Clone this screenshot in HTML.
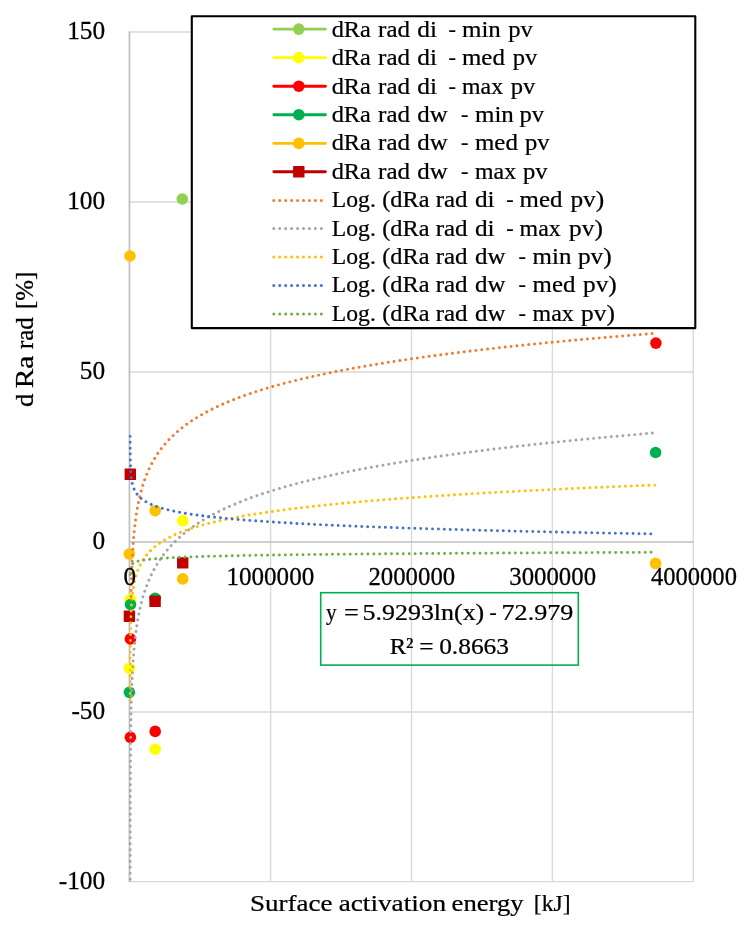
<!DOCTYPE html>
<html lang="en"><head><meta charset="utf-8"><title>d Ra rad vs surface activation energy</title>
<style>html,body{margin:0;padding:0;background:#fff}svg{display:block}text{font-family:'Liberation Serif', 'DejaVu Serif', serif;font-size:24px;fill:#000;stroke:#000;stroke-width:0.25px}</style></head><body>
<svg width="746" height="926" viewBox="0 0 746 926">
<rect width="746" height="926" fill="#fff"/>
<g stroke="#d9d9d9" stroke-width="1.4" fill="none">
<line x1="129.7" y1="32.0" x2="693.3" y2="32.0"/>
<line x1="129.7" y1="202.0" x2="693.3" y2="202.0"/>
<line x1="129.7" y1="372.0" x2="693.3" y2="372.0"/>
<line x1="129.7" y1="712.0" x2="693.3" y2="712.0"/>
<line x1="129.7" y1="881.6" x2="693.3" y2="881.6"/>
<line x1="270.6" y1="32.0" x2="270.6" y2="881.6"/>
<line x1="411.5" y1="32.0" x2="411.5" y2="881.6"/>
<line x1="552.4" y1="32.0" x2="552.4" y2="881.6"/>
<line x1="693.3" y1="32.0" x2="693.3" y2="881.6"/>
</g>
<g stroke="#bfbfbf" stroke-width="1.5" fill="none">
<line x1="129.45" y1="31.3" x2="129.45" y2="882.3" stroke-width="1.7"/>
<line x1="129.7" y1="542.0" x2="693.3" y2="542.0"/>
</g>
<g fill="#92d050">
<circle cx="182.3" cy="199.0" r="5.80"/>
</g>
<g fill="#ffff00">
<circle cx="182.8" cy="520.8" r="5.80"/>
<circle cx="130.3" cy="599.5" r="5.80"/>
<circle cx="129.4" cy="668.3" r="5.80"/>
<circle cx="155.2" cy="749.2" r="5.80"/>
</g>
<g fill="#ff0000">
<circle cx="655.9" cy="343.1" r="5.80"/>
<circle cx="130.4" cy="638.9" r="5.80"/>
<circle cx="130.4" cy="737.3" r="5.80"/>
<circle cx="155.2" cy="731.4" r="5.80"/>
</g>
<g fill="#00b050">
<circle cx="655.6" cy="452.5" r="5.80"/>
<circle cx="130.5" cy="604.5" r="5.80"/>
<circle cx="129.4" cy="692.3" r="5.80"/>
<circle cx="155.1" cy="598.3" r="5.80"/>
</g>
<g fill="#ffc000">
<circle cx="130.0" cy="256.0" r="5.80"/>
<circle cx="155.2" cy="510.7" r="5.80"/>
<circle cx="129.3" cy="554.0" r="5.80"/>
<circle cx="182.7" cy="578.9" r="5.80"/>
<circle cx="655.6" cy="563.4" r="5.80"/>
</g>
<g fill="#c00000">
<rect x="124.6" y="468.6" width="11.4" height="11.4" rx="0.6"/>
<rect x="177.0" y="557.2" width="11.4" height="11.4" rx="0.6"/>
<rect x="149.4" y="595.6" width="11.4" height="11.4" rx="0.6"/>
<rect x="123.7" y="610.5" width="11.4" height="11.4" rx="0.6"/>
</g>
<defs><clipPath id="plot"><rect x="126.7" y="29.0" width="569.6" height="854.1"/></clipPath></defs>
<g fill="none" stroke-width="2.95" stroke-linecap="round" stroke-linejoin="round" stroke-dasharray="0.01 5.89" clip-path="url(#plot)">
<path d="M130.98 596.47 L131.00 595.75 L131.01 595.02 L131.03 594.30 L131.04 593.58 L131.06 592.85 L131.07 592.13 L131.09 591.41 L131.11 590.68 L131.12 589.96 L131.14 589.24 L131.16 588.52 L131.18 587.79 L131.20 587.07 L131.21 586.35 L131.23 585.62 L131.25 584.90 L131.27 584.18 L131.29 583.45 L131.31 582.73 L131.33 582.01 L131.35 581.29 L131.38 580.56 L131.40 579.84 L131.42 579.12 L131.44 578.39 L131.47 577.67 L131.49 576.95 L131.51 576.22 L131.54 575.50 L131.56 574.78 L131.59 574.06 L131.61 573.33 L131.64 572.61 L131.67 571.89 L131.69 571.16 L131.72 570.44 L131.75 569.72 L131.78 569.00 L131.81 568.27 L131.84 567.55 L131.87 566.83 L131.90 566.10 L131.93 565.38 L131.96 564.66 L131.99 563.93 L132.03 563.21 L132.06 562.49 L132.09 561.77 L132.13 561.04 L132.16 560.32 L132.20 559.60 L132.24 558.87 L132.27 558.15 L132.31 557.43 L132.35 556.70 L132.39 555.98 L132.43 555.26 L132.47 554.54 L132.51 553.81 L132.55 553.09 L132.60 552.37 L132.64 551.64 L132.69 550.92 L132.73 550.20 L132.78 549.48 L132.82 548.75 L132.87 548.03 L132.92 547.31 L132.97 546.58 L133.02 545.86 L133.07 545.14 L133.12 544.41 L133.18 543.69 L133.23 542.97 L133.29 542.25 L133.34 541.52 L133.40 540.80 L133.46 540.08 L133.52 539.35 L133.58 538.63 L133.64 537.91 L133.70 537.18 L133.76 536.46 L133.83 535.74 L133.89 535.02 L133.96 534.29 L134.03 533.57 L134.10 532.85 L134.17 532.12 L134.24 531.40 L134.31 530.68 L134.39 529.96 L134.47 529.23 L134.54 528.51 L134.62 527.79 L134.70 527.06 L134.78 526.34 L134.86 525.62 L134.95 524.89 L135.04 524.17 L135.12 523.45 L135.21 522.73 L135.30 522.00 L135.39 521.28 L135.49 520.56 L135.58 519.83 L135.68 519.11 L135.78 518.39 L135.88 517.66 L135.98 516.94 L136.09 516.22 L136.19 515.50 L136.30 514.77 L136.41 514.05 L136.52 513.33 L136.64 512.60 L136.75 511.88 L136.87 511.16 L136.99 510.44 L137.11 509.71 L137.24 508.99 L137.36 508.27 L137.49 507.54 L137.62 506.82 L137.76 506.10 L137.89 505.37 L138.03 504.65 L138.17 503.93 L138.32 503.21 L138.46 502.48 L138.61 501.76 L138.76 501.04 L138.92 500.31 L139.07 499.59 L139.23 498.87 L139.40 498.14 L139.56 497.42 L139.73 496.70 L139.90 495.98 L140.07 495.25 L140.25 494.53 L140.43 493.81 L140.62 493.08 L140.80 492.36 L140.99 491.64 L141.19 490.92 L141.38 490.19 L141.59 489.47 L141.79 488.75 L142.00 488.02 L142.21 487.30 L142.43 486.58 L142.64 485.85 L142.87 485.13 L143.10 484.41 L143.33 483.69 L143.56 482.96 L143.80 482.24 L144.05 481.52 L144.30 480.79 L144.55 480.07 L144.81 479.35 L145.07 478.62 L145.33 477.90 L145.61 477.18 L145.88 476.46 L146.16 475.73 L146.45 475.01 L146.74 474.29 L147.04 473.56 L147.34 472.84 L147.65 472.12 L147.96 471.40 L148.28 470.67 L148.60 469.95 L148.93 469.23 L149.27 468.50 L149.61 467.78 L149.96 467.06 L150.31 466.33 L150.67 465.61 L151.04 464.89 L151.41 464.17 L151.79 463.44 L152.18 462.72 L152.57 462.00 L152.97 461.27 L153.38 460.55 L153.80 459.83 L154.22 459.10 L154.65 458.38 L155.09 457.66 L155.53 456.94 L155.99 456.21 L156.45 455.49 L156.92 454.77 L157.40 454.04 L157.89 453.32 L158.38 452.60 L158.89 451.87 L159.40 451.15 L159.92 450.43 L160.46 449.71 L161.00 448.98 L161.55 448.26 L162.11 447.54 L162.68 446.81 L163.26 446.09 L163.85 445.37 L164.46 444.65 L165.07 443.92 L165.69 443.20 L166.33 442.48 L166.98 441.75 L167.64 441.03 L168.31 440.31 L168.99 439.58 L169.68 438.86 L170.39 438.14 L171.11 437.42 L171.84 436.69 L172.59 435.97 L173.34 435.25 L174.12 434.52 L174.90 433.80 L175.70 433.08 L176.52 432.35 L177.35 431.63 L178.19 430.91 L179.05 430.19 L179.92 429.46 L180.81 428.74 L181.72 428.02 L182.64 427.29 L183.58 426.57 L184.53 425.85 L185.51 425.13 L186.50 424.40 L187.50 423.68 L188.53 422.96 L189.57 422.23 L190.63 421.51 L191.72 420.79 L192.82 420.06 L193.94 419.34 L195.08 418.62 L196.24 417.90 L197.42 417.17 L198.62 416.45 L199.85 415.73 L201.09 415.00 L202.36 414.28 L203.65 413.56 L204.97 412.83 L206.30 412.11 L207.66 411.39 L209.05 410.67 L210.46 409.94 L211.90 409.22 L213.36 408.50 L214.85 407.77 L216.36 407.05 L217.90 406.33 L219.47 405.61 L221.07 404.88 L222.69 404.16 L224.35 403.44 L226.03 402.71 L227.74 401.99 L229.49 401.27 L231.26 400.54 L233.07 399.82 L234.91 399.10 L236.79 398.38 L238.69 397.65 L240.63 396.93 L242.61 396.21 L244.62 395.48 L246.66 394.76 L248.75 394.04 L250.87 393.31 L253.03 392.59 L255.22 391.87 L257.46 391.15 L259.73 390.42 L262.05 389.70 L264.41 388.98 L266.81 388.25 L269.25 387.53 L271.74 386.81 L274.27 386.09 L276.85 385.36 L279.47 384.64 L282.14 383.92 L284.86 383.19 L287.62 382.47 L290.44 381.75 L293.30 381.02 L296.22 380.30 L299.19 379.58 L302.21 378.86 L305.29 378.13 L308.42 377.41 L311.60 376.69 L314.85 375.96 L318.15 375.24 L321.51 374.52 L324.93 373.79 L328.42 373.07 L331.96 372.35 L335.57 371.63 L339.24 370.90 L342.98 370.18 L346.78 369.46 L350.66 368.73 L354.60 368.01 L358.61 367.29 L362.69 366.57 L366.85 365.84 L371.08 365.12 L375.39 364.40 L379.78 363.67 L384.24 362.95 L388.78 362.23 L393.40 361.50 L398.11 360.78 L402.90 360.06 L407.78 359.34 L412.74 358.61 L417.79 357.89 L422.94 357.17 L428.17 356.44 L433.50 355.72 L438.92 355.00 L444.44 354.27 L450.06 353.55 L455.78 352.83 L461.60 352.11 L467.53 351.38 L473.56 350.66 L479.70 349.94 L485.95 349.21 L492.31 348.49 L498.78 347.77 L505.37 347.04 L512.08 346.32 L518.91 345.60 L525.86 344.88 L532.93 344.15 L540.13 343.43 L547.46 342.71 L554.92 341.98 L562.52 341.26 L570.25 340.54 L578.11 339.82 L586.12 339.09 L594.27 338.37 L602.57 337.65 L611.02 336.92 L619.61 336.20 L628.36 335.48 L637.27 334.75 L646.34 334.03 L655.57 333.31" stroke="#ed7d31"/>
<path d="M130.16 902.75 L130.16 901.97 L130.16 901.18 L130.16 900.40 L130.16 899.62 L130.16 898.83 L130.16 898.05 L130.16 897.27 L130.16 896.48 L130.16 895.70 L130.17 894.92 L130.17 894.13 L130.17 893.35 L130.17 892.57 L130.17 891.78 L130.17 891.00 L130.17 890.22 L130.17 889.43 L130.17 888.65 L130.17 887.87 L130.17 887.08 L130.17 886.30 L130.17 885.52 L130.17 884.73 L130.17 883.95 L130.17 883.17 L130.17 882.38 L130.17 881.60 L130.17 880.82 L130.17 880.04 L130.17 879.25 L130.17 878.47 L130.17 877.69 L130.17 876.90 L130.17 876.12 L130.17 875.34 L130.17 874.55 L130.17 873.77 L130.17 872.99 L130.18 872.20 L130.18 871.42 L130.18 870.64 L130.18 869.85 L130.18 869.07 L130.18 868.29 L130.18 867.50 L130.18 866.72 L130.18 865.94 L130.18 865.15 L130.18 864.37 L130.18 863.59 L130.18 862.80 L130.18 862.02 L130.18 861.24 L130.18 860.45 L130.18 859.67 L130.18 858.89 L130.18 858.11 L130.19 857.32 L130.19 856.54 L130.19 855.76 L130.19 854.97 L130.19 854.19 L130.19 853.41 L130.19 852.62 L130.19 851.84 L130.19 851.06 L130.19 850.27 L130.19 849.49 L130.19 848.71 L130.19 847.92 L130.19 847.14 L130.20 846.36 L130.20 845.57 L130.20 844.79 L130.20 844.01 L130.20 843.22 L130.20 842.44 L130.20 841.66 L130.20 840.87 L130.20 840.09 L130.20 839.31 L130.20 838.53 L130.21 837.74 L130.21 836.96 L130.21 836.18 L130.21 835.39 L130.21 834.61 L130.21 833.83 L130.21 833.04 L130.21 832.26 L130.21 831.48 L130.21 830.69 L130.22 829.91 L130.22 829.13 L130.22 828.34 L130.22 827.56 L130.22 826.78 L130.22 825.99 L130.22 825.21 L130.22 824.43 L130.23 823.64 L130.23 822.86 L130.23 822.08 L130.23 821.29 L130.23 820.51 L130.23 819.73 L130.23 818.94 L130.24 818.16 L130.24 817.38 L130.24 816.60 L130.24 815.81 L130.24 815.03 L130.24 814.25 L130.25 813.46 L130.25 812.68 L130.25 811.90 L130.25 811.11 L130.25 810.33 L130.25 809.55 L130.26 808.76 L130.26 807.98 L130.26 807.20 L130.26 806.41 L130.26 805.63 L130.27 804.85 L130.27 804.06 L130.27 803.28 L130.27 802.50 L130.27 801.71 L130.28 800.93 L130.28 800.15 L130.28 799.36 L130.28 798.58 L130.29 797.80 L130.29 797.01 L130.29 796.23 L130.29 795.45 L130.30 794.67 L130.30 793.88 L130.30 793.10 L130.30 792.32 L130.31 791.53 L130.31 790.75 L130.31 789.97 L130.32 789.18 L130.32 788.40 L130.32 787.62 L130.32 786.83 L130.33 786.05 L130.33 785.27 L130.33 784.48 L130.34 783.70 L130.34 782.92 L130.34 782.13 L130.35 781.35 L130.35 780.57 L130.35 779.78 L130.36 779.00 L130.36 778.22 L130.37 777.43 L130.37 776.65 L130.37 775.87 L130.38 775.08 L130.38 774.30 L130.39 773.52 L130.39 772.74 L130.39 771.95 L130.40 771.17 L130.40 770.39 L130.41 769.60 L130.41 768.82 L130.42 768.04 L130.42 767.25 L130.43 766.47 L130.43 765.69 L130.44 764.90 L130.44 764.12 L130.45 763.34 L130.45 762.55 L130.46 761.77 L130.46 760.99 L130.47 760.20 L130.47 759.42 L130.48 758.64 L130.49 757.85 L130.49 757.07 L130.50 756.29 L130.50 755.50 L130.51 754.72 L130.52 753.94 L130.52 753.15 L130.53 752.37 L130.54 751.59 L130.54 750.81 L130.55 750.02 L130.56 749.24 L130.57 748.46 L130.57 747.67 L130.58 746.89 L130.59 746.11 L130.60 745.32 L130.60 744.54 L130.61 743.76 L130.62 742.97 L130.63 742.19 L130.64 741.41 L130.65 740.62 L130.66 739.84 L130.66 739.06 L130.67 738.27 L130.68 737.49 L130.69 736.71 L130.70 735.92 L130.71 735.14 L130.72 734.36 L130.73 733.57 L130.74 732.79 L130.75 732.01 L130.76 731.22 L130.78 730.44 L130.79 729.66 L130.80 728.88 L130.81 728.09 L130.82 727.31 L130.83 726.53 L130.85 725.74 L130.86 724.96 L130.87 724.18 L130.88 723.39 L130.90 722.61 L130.91 721.83 L130.92 721.04 L130.94 720.26 L130.95 719.48 L130.97 718.69 L130.98 717.91 L131.00 717.13 L131.01 716.34 L131.03 715.56 L131.04 714.78 L131.06 713.99 L131.07 713.21 L131.09 712.43 L131.11 711.64 L131.12 710.86 L131.14 710.08 L131.16 709.29 L131.18 708.51 L131.20 707.73 L131.21 706.95 L131.23 706.16 L131.25 705.38 L131.27 704.60 L131.29 703.81 L131.31 703.03 L131.33 702.25 L131.35 701.46 L131.38 700.68 L131.40 699.90 L131.42 699.11 L131.44 698.33 L131.47 697.55 L131.49 696.76 L131.51 695.98 L131.54 695.20 L131.56 694.41 L131.59 693.63 L131.61 692.85 L131.64 692.06 L131.67 691.28 L131.69 690.50 L131.72 689.71 L131.75 688.93 L131.78 688.15 L131.81 687.37 L131.84 686.58 L131.87 685.80 L131.90 685.02 L131.93 684.23 L131.96 683.45 L131.99 682.67 L132.03 681.88 L132.06 681.10 L132.09 680.32 L132.13 679.53 L132.16 678.75 L132.20 677.97 L132.24 677.18 L132.27 676.40 L132.31 675.62 L132.35 674.83 L132.39 674.05 L132.43 673.27 L132.47 672.48 L132.51 671.70 L132.55 670.92 L132.60 670.13 L132.64 669.35 L132.69 668.57 L132.73 667.78 L132.78 667.00 L132.82 666.22 L132.87 665.44 L132.92 664.65 L132.97 663.87 L133.02 663.09 L133.07 662.30 L133.12 661.52 L133.18 660.74 L133.23 659.95 L133.29 659.17 L133.34 658.39 L133.40 657.60 L133.46 656.82 L133.52 656.04 L133.58 655.25 L133.64 654.47 L133.70 653.69 L133.76 652.90 L133.83 652.12 L133.89 651.34 L133.96 650.55 L134.03 649.77 L134.10 648.99 L134.17 648.20 L134.24 647.42 L134.31 646.64 L134.39 645.85 L134.47 645.07 L134.54 644.29 L134.62 643.51 L134.70 642.72 L134.78 641.94 L134.86 641.16 L134.95 640.37 L135.04 639.59 L135.12 638.81 L135.21 638.02 L135.30 637.24 L135.39 636.46 L135.49 635.67 L135.58 634.89 L135.68 634.11 L135.78 633.32 L135.88 632.54 L135.98 631.76 L136.09 630.97 L136.19 630.19 L136.30 629.41 L136.41 628.62 L136.52 627.84 L136.64 627.06 L136.75 626.27 L136.87 625.49 L136.99 624.71 L137.11 623.92 L137.24 623.14 L137.36 622.36 L137.49 621.58 L137.62 620.79 L137.76 620.01 L137.89 619.23 L138.03 618.44 L138.17 617.66 L138.32 616.88 L138.46 616.09 L138.61 615.31 L138.76 614.53 L138.92 613.74 L139.07 612.96 L139.23 612.18 L139.40 611.39 L139.56 610.61 L139.73 609.83 L139.90 609.04 L140.07 608.26 L140.25 607.48 L140.43 606.69 L140.62 605.91 L140.80 605.13 L140.99 604.34 L141.19 603.56 L141.38 602.78 L141.59 601.99 L141.79 601.21 L142.00 600.43 L142.21 599.65 L142.43 598.86 L142.64 598.08 L142.87 597.30 L143.10 596.51 L143.33 595.73 L143.56 594.95 L143.80 594.16 L144.05 593.38 L144.30 592.60 L144.55 591.81 L144.81 591.03 L145.07 590.25 L145.33 589.46 L145.61 588.68 L145.88 587.90 L146.16 587.11 L146.45 586.33 L146.74 585.55 L147.04 584.76 L147.34 583.98 L147.65 583.20 L147.96 582.41 L148.28 581.63 L148.60 580.85 L148.93 580.06 L149.27 579.28 L149.61 578.50 L149.96 577.72 L150.31 576.93 L150.67 576.15 L151.04 575.37 L151.41 574.58 L151.79 573.80 L152.18 573.02 L152.57 572.23 L152.97 571.45 L153.38 570.67 L153.80 569.88 L154.22 569.10 L154.65 568.32 L155.09 567.53 L155.53 566.75 L155.99 565.97 L156.45 565.18 L156.92 564.40 L157.40 563.62 L157.89 562.83 L158.38 562.05 L158.89 561.27 L159.40 560.48 L159.92 559.70 L160.46 558.92 L161.00 558.14 L161.55 557.35 L162.11 556.57 L162.68 555.79 L163.26 555.00 L163.85 554.22 L164.46 553.44 L165.07 552.65 L165.69 551.87 L166.33 551.09 L166.98 550.30 L167.64 549.52 L168.31 548.74 L168.99 547.95 L169.68 547.17 L170.39 546.39 L171.11 545.60 L171.84 544.82 L172.59 544.04 L173.34 543.25 L174.12 542.47 L174.90 541.69 L175.70 540.90 L176.52 540.12 L177.35 539.34 L178.19 538.55 L179.05 537.77 L179.92 536.99 L180.81 536.21 L181.72 535.42 L182.64 534.64 L183.58 533.86 L184.53 533.07 L185.51 532.29 L186.50 531.51 L187.50 530.72 L188.53 529.94 L189.57 529.16 L190.63 528.37 L191.72 527.59 L192.82 526.81 L193.94 526.02 L195.08 525.24 L196.24 524.46 L197.42 523.67 L198.62 522.89 L199.85 522.11 L201.09 521.32 L202.36 520.54 L203.65 519.76 L204.97 518.97 L206.30 518.19 L207.66 517.41 L209.05 516.62 L210.46 515.84 L211.90 515.06 L213.36 514.28 L214.85 513.49 L216.36 512.71 L217.90 511.93 L219.47 511.14 L221.07 510.36 L222.69 509.58 L224.35 508.79 L226.03 508.01 L227.74 507.23 L229.49 506.44 L231.26 505.66 L233.07 504.88 L234.91 504.09 L236.79 503.31 L238.69 502.53 L240.63 501.74 L242.61 500.96 L244.62 500.18 L246.66 499.39 L248.75 498.61 L250.87 497.83 L253.03 497.04 L255.22 496.26 L257.46 495.48 L259.73 494.69 L262.05 493.91 L264.41 493.13 L266.81 492.35 L269.25 491.56 L271.74 490.78 L274.27 490.00 L276.85 489.21 L279.47 488.43 L282.14 487.65 L284.86 486.86 L287.62 486.08 L290.44 485.30 L293.30 484.51 L296.22 483.73 L299.19 482.95 L302.21 482.16 L305.29 481.38 L308.42 480.60 L311.60 479.81 L314.85 479.03 L318.15 478.25 L321.51 477.46 L324.93 476.68 L328.42 475.90 L331.96 475.11 L335.57 474.33 L339.24 473.55 L342.98 472.76 L346.78 471.98 L350.66 471.20 L354.60 470.42 L358.61 469.63 L362.69 468.85 L366.85 468.07 L371.08 467.28 L375.39 466.50 L379.78 465.72 L384.24 464.93 L388.78 464.15 L393.40 463.37 L398.11 462.58 L402.90 461.80 L407.78 461.02 L412.74 460.23 L417.79 459.45 L422.94 458.67 L428.17 457.88 L433.50 457.10 L438.92 456.32 L444.44 455.53 L450.06 454.75 L455.78 453.97 L461.60 453.18 L467.53 452.40 L473.56 451.62 L479.70 450.83 L485.95 450.05 L492.31 449.27 L498.78 448.49 L505.37 447.70 L512.08 446.92 L518.91 446.14 L525.86 445.35 L532.93 444.57 L540.13 443.79 L547.46 443.00 L554.92 442.22 L562.52 441.44 L570.25 440.65 L578.11 439.87 L586.12 439.09 L594.27 438.30 L602.57 437.52 L611.02 436.74 L619.61 435.95 L628.36 435.17 L637.27 434.39 L646.34 433.60 L655.57 432.82" stroke="#a5a5a5"/>
<path d="M130.16 699.41 L130.16 699.06 L130.16 698.70 L130.16 698.34 L130.16 697.99 L130.16 697.63 L130.16 697.27 L130.16 696.91 L130.16 696.56 L130.16 696.20 L130.17 695.84 L130.17 695.48 L130.17 695.13 L130.17 694.77 L130.17 694.41 L130.17 694.06 L130.17 693.70 L130.17 693.34 L130.17 692.98 L130.17 692.63 L130.17 692.27 L130.17 691.91 L130.17 691.56 L130.17 691.20 L130.17 690.84 L130.17 690.48 L130.17 690.13 L130.17 689.77 L130.17 689.41 L130.17 689.05 L130.17 688.70 L130.17 688.34 L130.17 687.98 L130.17 687.63 L130.17 687.27 L130.17 686.91 L130.17 686.55 L130.17 686.20 L130.17 685.84 L130.18 685.48 L130.18 685.13 L130.18 684.77 L130.18 684.41 L130.18 684.05 L130.18 683.70 L130.18 683.34 L130.18 682.98 L130.18 682.62 L130.18 682.27 L130.18 681.91 L130.18 681.55 L130.18 681.20 L130.18 680.84 L130.18 680.48 L130.18 680.12 L130.18 679.77 L130.18 679.41 L130.18 679.05 L130.19 678.70 L130.19 678.34 L130.19 677.98 L130.19 677.62 L130.19 677.27 L130.19 676.91 L130.19 676.55 L130.19 676.19 L130.19 675.84 L130.19 675.48 L130.19 675.12 L130.19 674.77 L130.19 674.41 L130.19 674.05 L130.20 673.69 L130.20 673.34 L130.20 672.98 L130.20 672.62 L130.20 672.27 L130.20 671.91 L130.20 671.55 L130.20 671.19 L130.20 670.84 L130.20 670.48 L130.20 670.12 L130.21 669.76 L130.21 669.41 L130.21 669.05 L130.21 668.69 L130.21 668.34 L130.21 667.98 L130.21 667.62 L130.21 667.26 L130.21 666.91 L130.21 666.55 L130.22 666.19 L130.22 665.84 L130.22 665.48 L130.22 665.12 L130.22 664.76 L130.22 664.41 L130.22 664.05 L130.22 663.69 L130.23 663.33 L130.23 662.98 L130.23 662.62 L130.23 662.26 L130.23 661.91 L130.23 661.55 L130.23 661.19 L130.24 660.83 L130.24 660.48 L130.24 660.12 L130.24 659.76 L130.24 659.41 L130.24 659.05 L130.25 658.69 L130.25 658.33 L130.25 657.98 L130.25 657.62 L130.25 657.26 L130.25 656.90 L130.26 656.55 L130.26 656.19 L130.26 655.83 L130.26 655.48 L130.26 655.12 L130.27 654.76 L130.27 654.40 L130.27 654.05 L130.27 653.69 L130.27 653.33 L130.28 652.98 L130.28 652.62 L130.28 652.26 L130.28 651.90 L130.29 651.55 L130.29 651.19 L130.29 650.83 L130.29 650.47 L130.30 650.12 L130.30 649.76 L130.30 649.40 L130.30 649.05 L130.31 648.69 L130.31 648.33 L130.31 647.97 L130.32 647.62 L130.32 647.26 L130.32 646.90 L130.32 646.55 L130.33 646.19 L130.33 645.83 L130.33 645.47 L130.34 645.12 L130.34 644.76 L130.34 644.40 L130.35 644.04 L130.35 643.69 L130.35 643.33 L130.36 642.97 L130.36 642.62 L130.37 642.26 L130.37 641.90 L130.37 641.54 L130.38 641.19 L130.38 640.83 L130.39 640.47 L130.39 640.12 L130.39 639.76 L130.40 639.40 L130.40 639.04 L130.41 638.69 L130.41 638.33 L130.42 637.97 L130.42 637.61 L130.43 637.26 L130.43 636.90 L130.44 636.54 L130.44 636.19 L130.45 635.83 L130.45 635.47 L130.46 635.11 L130.46 634.76 L130.47 634.40 L130.47 634.04 L130.48 633.69 L130.49 633.33 L130.49 632.97 L130.50 632.61 L130.50 632.26 L130.51 631.90 L130.52 631.54 L130.52 631.18 L130.53 630.83 L130.54 630.47 L130.54 630.11 L130.55 629.76 L130.56 629.40 L130.57 629.04 L130.57 628.68 L130.58 628.33 L130.59 627.97 L130.60 627.61 L130.60 627.26 L130.61 626.90 L130.62 626.54 L130.63 626.18 L130.64 625.83 L130.65 625.47 L130.66 625.11 L130.66 624.75 L130.67 624.40 L130.68 624.04 L130.69 623.68 L130.70 623.33 L130.71 622.97 L130.72 622.61 L130.73 622.25 L130.74 621.90 L130.75 621.54 L130.76 621.18 L130.78 620.83 L130.79 620.47 L130.80 620.11 L130.81 619.75 L130.82 619.40 L130.83 619.04 L130.85 618.68 L130.86 618.32 L130.87 617.97 L130.88 617.61 L130.90 617.25 L130.91 616.90 L130.92 616.54 L130.94 616.18 L130.95 615.82 L130.97 615.47 L130.98 615.11 L131.00 614.75 L131.01 614.40 L131.03 614.04 L131.04 613.68 L131.06 613.32 L131.07 612.97 L131.09 612.61 L131.11 612.25 L131.12 611.89 L131.14 611.54 L131.16 611.18 L131.18 610.82 L131.20 610.47 L131.21 610.11 L131.23 609.75 L131.25 609.39 L131.27 609.04 L131.29 608.68 L131.31 608.32 L131.33 607.97 L131.35 607.61 L131.38 607.25 L131.40 606.89 L131.42 606.54 L131.44 606.18 L131.47 605.82 L131.49 605.46 L131.51 605.11 L131.54 604.75 L131.56 604.39 L131.59 604.04 L131.61 603.68 L131.64 603.32 L131.67 602.96 L131.69 602.61 L131.72 602.25 L131.75 601.89 L131.78 601.54 L131.81 601.18 L131.84 600.82 L131.87 600.46 L131.90 600.11 L131.93 599.75 L131.96 599.39 L131.99 599.03 L132.03 598.68 L132.06 598.32 L132.09 597.96 L132.13 597.61 L132.16 597.25 L132.20 596.89 L132.24 596.53 L132.27 596.18 L132.31 595.82 L132.35 595.46 L132.39 595.10 L132.43 594.75 L132.47 594.39 L132.51 594.03 L132.55 593.68 L132.60 593.32 L132.64 592.96 L132.69 592.60 L132.73 592.25 L132.78 591.89 L132.82 591.53 L132.87 591.18 L132.92 590.82 L132.97 590.46 L133.02 590.10 L133.07 589.75 L133.12 589.39 L133.18 589.03 L133.23 588.67 L133.29 588.32 L133.34 587.96 L133.40 587.60 L133.46 587.25 L133.52 586.89 L133.58 586.53 L133.64 586.17 L133.70 585.82 L133.76 585.46 L133.83 585.10 L133.89 584.75 L133.96 584.39 L134.03 584.03 L134.10 583.67 L134.17 583.32 L134.24 582.96 L134.31 582.60 L134.39 582.24 L134.47 581.89 L134.54 581.53 L134.62 581.17 L134.70 580.82 L134.78 580.46 L134.86 580.10 L134.95 579.74 L135.04 579.39 L135.12 579.03 L135.21 578.67 L135.30 578.32 L135.39 577.96 L135.49 577.60 L135.58 577.24 L135.68 576.89 L135.78 576.53 L135.88 576.17 L135.98 575.81 L136.09 575.46 L136.19 575.10 L136.30 574.74 L136.41 574.39 L136.52 574.03 L136.64 573.67 L136.75 573.31 L136.87 572.96 L136.99 572.60 L137.11 572.24 L137.24 571.89 L137.36 571.53 L137.49 571.17 L137.62 570.81 L137.76 570.46 L137.89 570.10 L138.03 569.74 L138.17 569.38 L138.32 569.03 L138.46 568.67 L138.61 568.31 L138.76 567.96 L138.92 567.60 L139.07 567.24 L139.23 566.88 L139.40 566.53 L139.56 566.17 L139.73 565.81 L139.90 565.46 L140.07 565.10 L140.25 564.74 L140.43 564.38 L140.62 564.03 L140.80 563.67 L140.99 563.31 L141.19 562.95 L141.38 562.60 L141.59 562.24 L141.79 561.88 L142.00 561.53 L142.21 561.17 L142.43 560.81 L142.64 560.45 L142.87 560.10 L143.10 559.74 L143.33 559.38 L143.56 559.03 L143.80 558.67 L144.05 558.31 L144.30 557.95 L144.55 557.60 L144.81 557.24 L145.07 556.88 L145.33 556.52 L145.61 556.17 L145.88 555.81 L146.16 555.45 L146.45 555.10 L146.74 554.74 L147.04 554.38 L147.34 554.02 L147.65 553.67 L147.96 553.31 L148.28 552.95 L148.60 552.60 L148.93 552.24 L149.27 551.88 L149.61 551.52 L149.96 551.17 L150.31 550.81 L150.67 550.45 L151.04 550.09 L151.41 549.74 L151.79 549.38 L152.18 549.02 L152.57 548.67 L152.97 548.31 L153.38 547.95 L153.80 547.59 L154.22 547.24 L154.65 546.88 L155.09 546.52 L155.53 546.17 L155.99 545.81 L156.45 545.45 L156.92 545.09 L157.40 544.74 L157.89 544.38 L158.38 544.02 L158.89 543.66 L159.40 543.31 L159.92 542.95 L160.46 542.59 L161.00 542.24 L161.55 541.88 L162.11 541.52 L162.68 541.16 L163.26 540.81 L163.85 540.45 L164.46 540.09 L165.07 539.74 L165.69 539.38 L166.33 539.02 L166.98 538.66 L167.64 538.31 L168.31 537.95 L168.99 537.59 L169.68 537.23 L170.39 536.88 L171.11 536.52 L171.84 536.16 L172.59 535.81 L173.34 535.45 L174.12 535.09 L174.90 534.73 L175.70 534.38 L176.52 534.02 L177.35 533.66 L178.19 533.31 L179.05 532.95 L179.92 532.59 L180.81 532.23 L181.72 531.88 L182.64 531.52 L183.58 531.16 L184.53 530.80 L185.51 530.45 L186.50 530.09 L187.50 529.73 L188.53 529.38 L189.57 529.02 L190.63 528.66 L191.72 528.30 L192.82 527.95 L193.94 527.59 L195.08 527.23 L196.24 526.88 L197.42 526.52 L198.62 526.16 L199.85 525.80 L201.09 525.45 L202.36 525.09 L203.65 524.73 L204.97 524.37 L206.30 524.02 L207.66 523.66 L209.05 523.30 L210.46 522.95 L211.90 522.59 L213.36 522.23 L214.85 521.87 L216.36 521.52 L217.90 521.16 L219.47 520.80 L221.07 520.45 L222.69 520.09 L224.35 519.73 L226.03 519.37 L227.74 519.02 L229.49 518.66 L231.26 518.30 L233.07 517.94 L234.91 517.59 L236.79 517.23 L238.69 516.87 L240.63 516.52 L242.61 516.16 L244.62 515.80 L246.66 515.44 L248.75 515.09 L250.87 514.73 L253.03 514.37 L255.22 514.02 L257.46 513.66 L259.73 513.30 L262.05 512.94 L264.41 512.59 L266.81 512.23 L269.25 511.87 L271.74 511.51 L274.27 511.16 L276.85 510.80 L279.47 510.44 L282.14 510.09 L284.86 509.73 L287.62 509.37 L290.44 509.01 L293.30 508.66 L296.22 508.30 L299.19 507.94 L302.21 507.59 L305.29 507.23 L308.42 506.87 L311.60 506.51 L314.85 506.16 L318.15 505.80 L321.51 505.44 L324.93 505.08 L328.42 504.73 L331.96 504.37 L335.57 504.01 L339.24 503.66 L342.98 503.30 L346.78 502.94 L350.66 502.58 L354.60 502.23 L358.61 501.87 L362.69 501.51 L366.85 501.16 L371.08 500.80 L375.39 500.44 L379.78 500.08 L384.24 499.73 L388.78 499.37 L393.40 499.01 L398.11 498.65 L402.90 498.30 L407.78 497.94 L412.74 497.58 L417.79 497.23 L422.94 496.87 L428.17 496.51 L433.50 496.15 L438.92 495.80 L444.44 495.44 L450.06 495.08 L455.78 494.73 L461.60 494.37 L467.53 494.01 L473.56 493.65 L479.70 493.30 L485.95 492.94 L492.31 492.58 L498.78 492.22 L505.37 491.87 L512.08 491.51 L518.91 491.15 L525.86 490.80 L532.93 490.44 L540.13 490.08 L547.46 489.72 L554.92 489.37 L562.52 489.01 L570.25 488.65 L578.11 488.30 L586.12 487.94 L594.27 487.58 L602.57 487.22 L611.02 486.87 L619.61 486.51 L628.36 486.15 L637.27 485.79 L646.34 485.44 L655.57 485.08" stroke="#ffc000"/>
<path d="M130.16 436.36 L130.16 436.52 L130.16 436.69 L130.16 436.85 L130.16 437.01 L130.16 437.17 L130.16 437.34 L130.16 437.50 L130.16 437.66 L130.16 437.82 L130.17 437.99 L130.17 438.15 L130.17 438.31 L130.17 438.47 L130.17 438.64 L130.17 438.80 L130.17 438.96 L130.17 439.13 L130.17 439.29 L130.17 439.45 L130.17 439.61 L130.17 439.78 L130.17 439.94 L130.17 440.10 L130.17 440.26 L130.17 440.43 L130.17 440.59 L130.17 440.75 L130.17 440.91 L130.17 441.08 L130.17 441.24 L130.17 441.40 L130.17 441.57 L130.17 441.73 L130.17 441.89 L130.17 442.05 L130.17 442.22 L130.17 442.38 L130.17 442.54 L130.18 442.70 L130.18 442.87 L130.18 443.03 L130.18 443.19 L130.18 443.35 L130.18 443.52 L130.18 443.68 L130.18 443.84 L130.18 444.01 L130.18 444.17 L130.18 444.33 L130.18 444.49 L130.18 444.66 L130.18 444.82 L130.18 444.98 L130.18 445.14 L130.18 445.31 L130.18 445.47 L130.18 445.63 L130.19 445.79 L130.19 445.96 L130.19 446.12 L130.19 446.28 L130.19 446.45 L130.19 446.61 L130.19 446.77 L130.19 446.93 L130.19 447.10 L130.19 447.26 L130.19 447.42 L130.19 447.58 L130.19 447.75 L130.19 447.91 L130.20 448.07 L130.20 448.23 L130.20 448.40 L130.20 448.56 L130.20 448.72 L130.20 448.89 L130.20 449.05 L130.20 449.21 L130.20 449.37 L130.20 449.54 L130.20 449.70 L130.21 449.86 L130.21 450.02 L130.21 450.19 L130.21 450.35 L130.21 450.51 L130.21 450.67 L130.21 450.84 L130.21 451.00 L130.21 451.16 L130.21 451.33 L130.22 451.49 L130.22 451.65 L130.22 451.81 L130.22 451.98 L130.22 452.14 L130.22 452.30 L130.22 452.46 L130.22 452.63 L130.23 452.79 L130.23 452.95 L130.23 453.11 L130.23 453.28 L130.23 453.44 L130.23 453.60 L130.23 453.77 L130.24 453.93 L130.24 454.09 L130.24 454.25 L130.24 454.42 L130.24 454.58 L130.24 454.74 L130.25 454.90 L130.25 455.07 L130.25 455.23 L130.25 455.39 L130.25 455.55 L130.25 455.72 L130.26 455.88 L130.26 456.04 L130.26 456.21 L130.26 456.37 L130.26 456.53 L130.27 456.69 L130.27 456.86 L130.27 457.02 L130.27 457.18 L130.27 457.34 L130.28 457.51 L130.28 457.67 L130.28 457.83 L130.28 457.99 L130.29 458.16 L130.29 458.32 L130.29 458.48 L130.29 458.65 L130.30 458.81 L130.30 458.97 L130.30 459.13 L130.30 459.30 L130.31 459.46 L130.31 459.62 L130.31 459.78 L130.32 459.95 L130.32 460.11 L130.32 460.27 L130.32 460.43 L130.33 460.60 L130.33 460.76 L130.33 460.92 L130.34 461.09 L130.34 461.25 L130.34 461.41 L130.35 461.57 L130.35 461.74 L130.35 461.90 L130.36 462.06 L130.36 462.22 L130.37 462.39 L130.37 462.55 L130.37 462.71 L130.38 462.88 L130.38 463.04 L130.39 463.20 L130.39 463.36 L130.39 463.53 L130.40 463.69 L130.40 463.85 L130.41 464.01 L130.41 464.18 L130.42 464.34 L130.42 464.50 L130.43 464.66 L130.43 464.83 L130.44 464.99 L130.44 465.15 L130.45 465.32 L130.45 465.48 L130.46 465.64 L130.46 465.80 L130.47 465.97 L130.47 466.13 L130.48 466.29 L130.49 466.45 L130.49 466.62 L130.50 466.78 L130.50 466.94 L130.51 467.10 L130.52 467.27 L130.52 467.43 L130.53 467.59 L130.54 467.76 L130.54 467.92 L130.55 468.08 L130.56 468.24 L130.57 468.41 L130.57 468.57 L130.58 468.73 L130.59 468.89 L130.60 469.06 L130.60 469.22 L130.61 469.38 L130.62 469.54 L130.63 469.71 L130.64 469.87 L130.65 470.03 L130.66 470.20 L130.66 470.36 L130.67 470.52 L130.68 470.68 L130.69 470.85 L130.70 471.01 L130.71 471.17 L130.72 471.33 L130.73 471.50 L130.74 471.66 L130.75 471.82 L130.76 471.98 L130.78 472.15 L130.79 472.31 L130.80 472.47 L130.81 472.64 L130.82 472.80 L130.83 472.96 L130.85 473.12 L130.86 473.29 L130.87 473.45 L130.88 473.61 L130.90 473.77 L130.91 473.94 L130.92 474.10 L130.94 474.26 L130.95 474.42 L130.97 474.59 L130.98 474.75 L131.00 474.91 L131.01 475.08 L131.03 475.24 L131.04 475.40 L131.06 475.56 L131.07 475.73 L131.09 475.89 L131.11 476.05 L131.12 476.21 L131.14 476.38 L131.16 476.54 L131.18 476.70 L131.20 476.86 L131.21 477.03 L131.23 477.19 L131.25 477.35 L131.27 477.52 L131.29 477.68 L131.31 477.84 L131.33 478.00 L131.35 478.17 L131.38 478.33 L131.40 478.49 L131.42 478.65 L131.44 478.82 L131.47 478.98 L131.49 479.14 L131.51 479.30 L131.54 479.47 L131.56 479.63 L131.59 479.79 L131.61 479.96 L131.64 480.12 L131.67 480.28 L131.69 480.44 L131.72 480.61 L131.75 480.77 L131.78 480.93 L131.81 481.09 L131.84 481.26 L131.87 481.42 L131.90 481.58 L131.93 481.74 L131.96 481.91 L131.99 482.07 L132.03 482.23 L132.06 482.40 L132.09 482.56 L132.13 482.72 L132.16 482.88 L132.20 483.05 L132.24 483.21 L132.27 483.37 L132.31 483.53 L132.35 483.70 L132.39 483.86 L132.43 484.02 L132.47 484.18 L132.51 484.35 L132.55 484.51 L132.60 484.67 L132.64 484.84 L132.69 485.00 L132.73 485.16 L132.78 485.32 L132.82 485.49 L132.87 485.65 L132.92 485.81 L132.97 485.97 L133.02 486.14 L133.07 486.30 L133.12 486.46 L133.18 486.62 L133.23 486.79 L133.29 486.95 L133.34 487.11 L133.40 487.28 L133.46 487.44 L133.52 487.60 L133.58 487.76 L133.64 487.93 L133.70 488.09 L133.76 488.25 L133.83 488.41 L133.89 488.58 L133.96 488.74 L134.03 488.90 L134.10 489.06 L134.17 489.23 L134.24 489.39 L134.31 489.55 L134.39 489.72 L134.47 489.88 L134.54 490.04 L134.62 490.20 L134.70 490.37 L134.78 490.53 L134.86 490.69 L134.95 490.85 L135.04 491.02 L135.12 491.18 L135.21 491.34 L135.30 491.50 L135.39 491.67 L135.49 491.83 L135.58 491.99 L135.68 492.16 L135.78 492.32 L135.88 492.48 L135.98 492.64 L136.09 492.81 L136.19 492.97 L136.30 493.13 L136.41 493.29 L136.52 493.46 L136.64 493.62 L136.75 493.78 L136.87 493.94 L136.99 494.11 L137.11 494.27 L137.24 494.43 L137.36 494.60 L137.49 494.76 L137.62 494.92 L137.76 495.08 L137.89 495.25 L138.03 495.41 L138.17 495.57 L138.32 495.73 L138.46 495.90 L138.61 496.06 L138.76 496.22 L138.92 496.38 L139.07 496.55 L139.23 496.71 L139.40 496.87 L139.56 497.04 L139.73 497.20 L139.90 497.36 L140.07 497.52 L140.25 497.69 L140.43 497.85 L140.62 498.01 L140.80 498.17 L140.99 498.34 L141.19 498.50 L141.38 498.66 L141.59 498.82 L141.79 498.99 L142.00 499.15 L142.21 499.31 L142.43 499.48 L142.64 499.64 L142.87 499.80 L143.10 499.96 L143.33 500.13 L143.56 500.29 L143.80 500.45 L144.05 500.61 L144.30 500.78 L144.55 500.94 L144.81 501.10 L145.07 501.26 L145.33 501.43 L145.61 501.59 L145.88 501.75 L146.16 501.92 L146.45 502.08 L146.74 502.24 L147.04 502.40 L147.34 502.57 L147.65 502.73 L147.96 502.89 L148.28 503.05 L148.60 503.22 L148.93 503.38 L149.27 503.54 L149.61 503.70 L149.96 503.87 L150.31 504.03 L150.67 504.19 L151.04 504.36 L151.41 504.52 L151.79 504.68 L152.18 504.84 L152.57 505.01 L152.97 505.17 L153.38 505.33 L153.80 505.49 L154.22 505.66 L154.65 505.82 L155.09 505.98 L155.53 506.14 L155.99 506.31 L156.45 506.47 L156.92 506.63 L157.40 506.80 L157.89 506.96 L158.38 507.12 L158.89 507.28 L159.40 507.45 L159.92 507.61 L160.46 507.77 L161.00 507.93 L161.55 508.10 L162.11 508.26 L162.68 508.42 L163.26 508.58 L163.85 508.75 L164.46 508.91 L165.07 509.07 L165.69 509.24 L166.33 509.40 L166.98 509.56 L167.64 509.72 L168.31 509.89 L168.99 510.05 L169.68 510.21 L170.39 510.37 L171.11 510.54 L171.84 510.70 L172.59 510.86 L173.34 511.02 L174.12 511.19 L174.90 511.35 L175.70 511.51 L176.52 511.68 L177.35 511.84 L178.19 512.00 L179.05 512.16 L179.92 512.33 L180.81 512.49 L181.72 512.65 L182.64 512.81 L183.58 512.98 L184.53 513.14 L185.51 513.30 L186.50 513.46 L187.50 513.63 L188.53 513.79 L189.57 513.95 L190.63 514.12 L191.72 514.28 L192.82 514.44 L193.94 514.60 L195.08 514.77 L196.24 514.93 L197.42 515.09 L198.62 515.25 L199.85 515.42 L201.09 515.58 L202.36 515.74 L203.65 515.90 L204.97 516.07 L206.30 516.23 L207.66 516.39 L209.05 516.56 L210.46 516.72 L211.90 516.88 L213.36 517.04 L214.85 517.21 L216.36 517.37 L217.90 517.53 L219.47 517.69 L221.07 517.86 L222.69 518.02 L224.35 518.18 L226.03 518.34 L227.74 518.51 L229.49 518.67 L231.26 518.83 L233.07 519.00 L234.91 519.16 L236.79 519.32 L238.69 519.48 L240.63 519.65 L242.61 519.81 L244.62 519.97 L246.66 520.13 L248.75 520.30 L250.87 520.46 L253.03 520.62 L255.22 520.78 L257.46 520.95 L259.73 521.11 L262.05 521.27 L264.41 521.44 L266.81 521.60 L269.25 521.76 L271.74 521.92 L274.27 522.09 L276.85 522.25 L279.47 522.41 L282.14 522.57 L284.86 522.74 L287.62 522.90 L290.44 523.06 L293.30 523.22 L296.22 523.39 L299.19 523.55 L302.21 523.71 L305.29 523.88 L308.42 524.04 L311.60 524.20 L314.85 524.36 L318.15 524.53 L321.51 524.69 L324.93 524.85 L328.42 525.01 L331.96 525.18 L335.57 525.34 L339.24 525.50 L342.98 525.66 L346.78 525.83 L350.66 525.99 L354.60 526.15 L358.61 526.32 L362.69 526.48 L366.85 526.64 L371.08 526.80 L375.39 526.97 L379.78 527.13 L384.24 527.29 L388.78 527.45 L393.40 527.62 L398.11 527.78 L402.90 527.94 L407.78 528.10 L412.74 528.27 L417.79 528.43 L422.94 528.59 L428.17 528.76 L433.50 528.92 L438.92 529.08 L444.44 529.24 L450.06 529.41 L455.78 529.57 L461.60 529.73 L467.53 529.89 L473.56 530.06 L479.70 530.22 L485.95 530.38 L492.31 530.54 L498.78 530.71 L505.37 530.87 L512.08 531.03 L518.91 531.20 L525.86 531.36 L532.93 531.52 L540.13 531.68 L547.46 531.85 L554.92 532.01 L562.52 532.17 L570.25 532.33 L578.11 532.50 L586.12 532.66 L594.27 532.82 L602.57 532.98 L611.02 533.15 L619.61 533.31 L628.36 533.47 L637.27 533.64 L646.34 533.80 L655.57 533.96" stroke="#4472c4"/>
<path d="M130.16 574.61 L130.16 574.57 L130.16 574.53 L130.16 574.49 L130.16 574.46 L130.16 574.42 L130.17 574.38 L130.17 574.35 L130.17 574.31 L130.17 574.27 L130.17 574.24 L130.17 574.20 L130.17 574.16 L130.17 574.12 L130.17 574.09 L130.17 574.05 L130.17 574.01 L130.17 573.98 L130.17 573.94 L130.17 573.90 L130.17 573.86 L130.17 573.83 L130.17 573.79 L130.17 573.75 L130.17 573.72 L130.17 573.68 L130.17 573.64 L130.17 573.60 L130.17 573.57 L130.17 573.53 L130.17 573.49 L130.17 573.46 L130.17 573.42 L130.17 573.38 L130.17 573.34 L130.18 573.31 L130.18 573.27 L130.18 573.23 L130.18 573.20 L130.18 573.16 L130.18 573.12 L130.18 573.08 L130.18 573.05 L130.18 573.01 L130.18 572.97 L130.18 572.94 L130.18 572.90 L130.18 572.86 L130.18 572.82 L130.18 572.79 L130.18 572.75 L130.18 572.71 L130.18 572.68 L130.18 572.64 L130.19 572.60 L130.19 572.56 L130.19 572.53 L130.19 572.49 L130.19 572.45 L130.19 572.42 L130.19 572.38 L130.19 572.34 L130.19 572.30 L130.19 572.27 L130.19 572.23 L130.19 572.19 L130.19 572.16 L130.19 572.12 L130.19 572.08 L130.20 572.04 L130.20 572.01 L130.20 571.97 L130.20 571.93 L130.20 571.90 L130.20 571.86 L130.20 571.82 L130.20 571.78 L130.20 571.75 L130.20 571.71 L130.20 571.67 L130.21 571.64 L130.21 571.60 L130.21 571.56 L130.21 571.52 L130.21 571.49 L130.21 571.45 L130.21 571.41 L130.21 571.38 L130.21 571.34 L130.21 571.30 L130.22 571.26 L130.22 571.23 L130.22 571.19 L130.22 571.15 L130.22 571.12 L130.22 571.08 L130.22 571.04 L130.22 571.01 L130.23 570.97 L130.23 570.93 L130.23 570.89 L130.23 570.86 L130.23 570.82 L130.23 570.78 L130.23 570.75 L130.24 570.71 L130.24 570.67 L130.24 570.63 L130.24 570.60 L130.24 570.56 L130.24 570.52 L130.25 570.49 L130.25 570.45 L130.25 570.41 L130.25 570.37 L130.25 570.34 L130.25 570.30 L130.26 570.26 L130.26 570.23 L130.26 570.19 L130.26 570.15 L130.26 570.11 L130.27 570.08 L130.27 570.04 L130.27 570.00 L130.27 569.97 L130.27 569.93 L130.28 569.89 L130.28 569.85 L130.28 569.82 L130.28 569.78 L130.29 569.74 L130.29 569.71 L130.29 569.67 L130.29 569.63 L130.30 569.59 L130.30 569.56 L130.30 569.52 L130.30 569.48 L130.31 569.45 L130.31 569.41 L130.31 569.37 L130.31 569.33 L130.32 569.30 L130.32 569.26 L130.32 569.22 L130.33 569.19 L130.33 569.15 L130.33 569.11 L130.34 569.07 L130.34 569.04 L130.34 569.00 L130.35 568.96 L130.35 568.93 L130.35 568.89 L130.36 568.85 L130.36 568.81 L130.36 568.78 L130.37 568.74 L130.37 568.70 L130.38 568.67 L130.38 568.63 L130.38 568.59 L130.39 568.55 L130.39 568.52 L130.40 568.48 L130.40 568.44 L130.41 568.41 L130.41 568.37 L130.42 568.33 L130.42 568.29 L130.42 568.26 L130.43 568.22 L130.43 568.18 L130.44 568.15 L130.44 568.11 L130.45 568.07 L130.46 568.03 L130.46 568.00 L130.47 567.96 L130.47 567.92 L130.48 567.89 L130.48 567.85 L130.49 567.81 L130.50 567.78 L130.50 567.74 L130.51 567.70 L130.51 567.66 L130.52 567.63 L130.53 567.59 L130.53 567.55 L130.54 567.52 L130.55 567.48 L130.55 567.44 L130.56 567.40 L130.57 567.37 L130.58 567.33 L130.58 567.29 L130.59 567.26 L130.60 567.22 L130.61 567.18 L130.62 567.14 L130.62 567.11 L130.63 567.07 L130.64 567.03 L130.65 567.00 L130.66 566.96 L130.67 566.92 L130.68 566.88 L130.69 566.85 L130.70 566.81 L130.71 566.77 L130.72 566.74 L130.73 566.70 L130.74 566.66 L130.75 566.62 L130.76 566.59 L130.77 566.55 L130.78 566.51 L130.79 566.48 L130.80 566.44 L130.81 566.40 L130.82 566.36 L130.84 566.33 L130.85 566.29 L130.86 566.25 L130.87 566.22 L130.89 566.18 L130.90 566.14 L130.91 566.10 L130.93 566.07 L130.94 566.03 L130.95 565.99 L130.97 565.96 L130.98 565.92 L131.00 565.88 L131.01 565.84 L131.03 565.81 L131.04 565.77 L131.06 565.73 L131.08 565.70 L131.09 565.66 L131.11 565.62 L131.13 565.58 L131.14 565.55 L131.16 565.51 L131.18 565.47 L131.20 565.44 L131.22 565.40 L131.24 565.36 L131.26 565.32 L131.27 565.29 L131.29 565.25 L131.32 565.21 L131.34 565.18 L131.36 565.14 L131.38 565.10 L131.40 565.06 L131.42 565.03 L131.44 564.99 L131.47 564.95 L131.49 564.92 L131.52 564.88 L131.54 564.84 L131.56 564.80 L131.59 564.77 L131.61 564.73 L131.64 564.69 L131.67 564.66 L131.69 564.62 L131.72 564.58 L131.75 564.55 L131.78 564.51 L131.81 564.47 L131.84 564.43 L131.87 564.40 L131.90 564.36 L131.93 564.32 L131.96 564.29 L131.99 564.25 L132.02 564.21 L132.06 564.17 L132.09 564.14 L132.13 564.10 L132.16 564.06 L132.20 564.03 L132.23 563.99 L132.27 563.95 L132.31 563.91 L132.35 563.88 L132.39 563.84 L132.43 563.80 L132.47 563.77 L132.51 563.73 L132.55 563.69 L132.59 563.65 L132.63 563.62 L132.68 563.58 L132.72 563.54 L132.77 563.51 L132.82 563.47 L132.86 563.43 L132.91 563.39 L132.96 563.36 L133.01 563.32 L133.06 563.28 L133.11 563.25 L133.17 563.21 L133.22 563.17 L133.27 563.13 L133.33 563.10 L133.39 563.06 L133.44 563.02 L133.50 562.99 L133.56 562.95 L133.62 562.91 L133.68 562.87 L133.75 562.84 L133.81 562.80 L133.88 562.76 L133.94 562.73 L134.01 562.69 L134.08 562.65 L134.15 562.61 L134.22 562.58 L134.29 562.54 L134.36 562.50 L134.44 562.47 L134.52 562.43 L134.59 562.39 L134.67 562.35 L134.75 562.32 L134.83 562.28 L134.92 562.24 L135.00 562.21 L135.09 562.17 L135.18 562.13 L135.27 562.09 L135.36 562.06 L135.45 562.02 L135.54 561.98 L135.64 561.95 L135.74 561.91 L135.84 561.87 L135.94 561.83 L136.04 561.80 L136.14 561.76 L136.25 561.72 L136.36 561.69 L136.47 561.65 L136.58 561.61 L136.70 561.57 L136.81 561.54 L136.93 561.50 L137.05 561.46 L137.17 561.43 L137.30 561.39 L137.42 561.35 L137.55 561.32 L137.69 561.28 L137.82 561.24 L137.96 561.20 L138.09 561.17 L138.24 561.13 L138.38 561.09 L138.53 561.06 L138.67 561.02 L138.83 560.98 L138.98 560.94 L139.14 560.91 L139.30 560.87 L139.46 560.83 L139.62 560.80 L139.79 560.76 L139.96 560.72 L140.14 560.68 L140.32 560.65 L140.50 560.61 L140.68 560.57 L140.87 560.54 L141.06 560.50 L141.25 560.46 L141.45 560.42 L141.65 560.39 L141.85 560.35 L142.06 560.31 L142.27 560.28 L142.49 560.24 L142.71 560.20 L142.93 560.16 L143.16 560.13 L143.39 560.09 L143.63 560.05 L143.86 560.02 L144.11 559.98 L144.36 559.94 L144.61 559.90 L144.87 559.87 L145.13 559.83 L145.39 559.79 L145.66 559.76 L145.94 559.72 L146.22 559.68 L146.51 559.64 L146.80 559.61 L147.09 559.57 L147.39 559.53 L147.70 559.50 L148.01 559.46 L148.33 559.42 L148.65 559.38 L148.98 559.35 L149.32 559.31 L149.66 559.27 L150.00 559.24 L150.36 559.20 L150.71 559.16 L151.08 559.12 L151.45 559.09 L151.83 559.05 L152.22 559.01 L152.61 558.98 L153.01 558.94 L153.41 558.90 L153.83 558.86 L154.25 558.83 L154.67 558.79 L155.11 558.75 L155.55 558.72 L156.01 558.68 L156.46 558.64 L156.93 558.60 L157.41 558.57 L157.89 558.53 L158.39 558.49 L158.89 558.46 L159.40 558.42 L159.92 558.38 L160.45 558.34 L160.98 558.31 L161.53 558.27 L162.09 558.23 L162.66 558.20 L163.23 558.16 L163.82 558.12 L164.42 558.09 L165.03 558.05 L165.65 558.01 L166.28 557.97 L166.92 557.94 L167.58 557.90 L168.24 557.86 L168.92 557.83 L169.61 557.79 L170.31 557.75 L171.02 557.71 L171.75 557.68 L172.49 557.64 L173.24 557.60 L174.00 557.57 L174.78 557.53 L175.58 557.49 L176.38 557.45 L177.21 557.42 L178.04 557.38 L178.89 557.34 L179.76 557.31 L180.64 557.27 L181.54 557.23 L182.45 557.19 L183.38 557.16 L184.33 557.12 L185.29 557.08 L186.27 557.05 L187.26 557.01 L188.28 556.97 L189.31 556.93 L190.36 556.90 L191.43 556.86 L192.52 556.82 L193.63 556.79 L194.76 556.75 L195.91 556.71 L197.07 556.67 L198.26 556.64 L199.47 556.60 L200.71 556.56 L201.96 556.53 L203.24 556.49 L204.53 556.45 L205.86 556.41 L207.20 556.38 L208.57 556.34 L209.96 556.30 L211.38 556.27 L212.82 556.23 L214.29 556.19 L215.79 556.15 L217.31 556.12 L218.86 556.08 L220.44 556.04 L222.04 556.01 L223.67 555.97 L225.33 555.93 L227.03 555.89 L228.75 555.86 L230.50 555.82 L232.28 555.78 L234.10 555.75 L235.94 555.71 L237.82 555.67 L239.74 555.63 L241.68 555.60 L243.66 555.56 L245.68 555.52 L247.73 555.49 L249.82 555.45 L251.95 555.41 L254.11 555.37 L256.32 555.34 L258.56 555.30 L260.84 555.26 L263.16 555.23 L265.53 555.19 L267.93 555.15 L270.38 555.11 L272.87 555.08 L275.41 555.04 L277.99 555.00 L280.61 554.97 L283.29 554.93 L286.01 554.89 L288.78 554.86 L291.60 554.82 L294.47 554.78 L297.38 554.74 L300.36 554.71 L303.38 554.67 L306.46 554.63 L309.59 554.60 L312.78 554.56 L316.02 554.52 L319.33 554.48 L322.69 554.45 L326.11 554.41 L329.59 554.37 L333.14 554.34 L336.74 554.30 L340.41 554.26 L344.15 554.22 L347.95 554.19 L351.82 554.15 L355.76 554.11 L359.77 554.08 L363.85 554.04 L368.00 554.00 L372.23 553.96 L376.53 553.93 L380.91 553.89 L385.36 553.85 L389.90 553.82 L394.51 553.78 L399.21 553.74 L403.99 553.70 L408.85 553.67 L413.81 553.63 L418.85 553.59 L423.98 553.56 L429.20 553.52 L434.51 553.48 L439.92 553.44 L445.42 553.41 L451.02 553.37 L456.73 553.33 L462.53 553.30 L468.43 553.26 L474.44 553.22 L480.56 553.18 L486.79 553.15 L493.13 553.11 L499.57 553.07 L506.14 553.04 L512.82 553.00 L519.62 552.96 L526.54 552.92 L533.58 552.89 L540.75 552.85 L548.05 552.81 L555.47 552.78 L563.03 552.74 L570.72 552.70 L578.55 552.66 L586.52 552.63 L594.62 552.59 L602.88 552.55 L611.28 552.52 L619.82 552.48 L628.53 552.44 L637.38 552.40 L646.39 552.37 L655.57 552.33" stroke="#70ad47"/>
</g>
<rect x="191.8" y="16.2" width="503.5" height="311.9" fill="#fff" stroke="#000" stroke-width="2.1" stroke-linejoin="round"/>
<line x1="273.9" y1="29.1" x2="325.4" y2="29.1" stroke="#92d050" stroke-width="2.9" stroke-linecap="round"/>
<circle cx="298.8" cy="29.1" r="5.80" fill="#92d050"/>
<text transform="matrix(1.0147 0 0 0.950 331.64 36.70)">dRa</text><text transform="matrix(1.0419 0 0 0.950 378.08 36.70)">rad</text><text transform="matrix(1.0548 0 0 0.950 417.30 36.70)">di</text><text transform="matrix(0.9280 0 0 0.950 448.56 36.70)">-</text><text transform="matrix(1.0411 0 0 0.950 461.98 36.70)">min</text><text transform="matrix(1.0254 0 0 0.950 508.19 36.70)">pv</text>
<line x1="273.9" y1="57.6" x2="325.4" y2="57.6" stroke="#ffff00" stroke-width="2.9" stroke-linecap="round"/>
<circle cx="298.8" cy="57.6" r="5.80" fill="#ffff00"/>
<text transform="matrix(1.0147 0 0 0.950 331.64 65.10)">dRa</text><text transform="matrix(1.0419 0 0 0.950 378.08 65.10)">rad</text><text transform="matrix(1.0548 0 0 0.950 417.30 65.10)">di</text><text transform="matrix(0.9280 0 0 0.950 448.56 65.10)">-</text><text transform="matrix(1.0370 0 0 0.950 461.98 65.10)">med</text><text transform="matrix(1.0254 0 0 0.950 512.79 65.10)">pv</text>
<line x1="273.9" y1="86.2" x2="325.4" y2="86.2" stroke="#ff0000" stroke-width="2.9" stroke-linecap="round"/>
<circle cx="298.8" cy="86.2" r="5.80" fill="#ff0000"/>
<text transform="matrix(1.0147 0 0 0.950 331.64 93.50)">dRa</text><text transform="matrix(1.0419 0 0 0.950 378.08 93.50)">rad</text><text transform="matrix(1.0548 0 0 0.950 417.30 93.50)">di</text><text transform="matrix(0.9280 0 0 0.950 448.56 93.50)">-</text><text transform="matrix(0.9951 0 0 0.950 462.00 93.50)">max</text><text transform="matrix(1.0254 0 0 0.950 510.79 93.50)">pv</text>
<line x1="273.9" y1="114.7" x2="325.4" y2="114.7" stroke="#00b050" stroke-width="2.9" stroke-linecap="round"/>
<circle cx="298.8" cy="114.7" r="5.80" fill="#00b050"/>
<text transform="matrix(1.0147 0 0 0.950 331.64 121.90)">dRa</text><text transform="matrix(1.0419 0 0 0.950 378.08 121.90)">rad</text><text transform="matrix(1.0387 0 0 0.950 417.32 121.90)">dw</text><text transform="matrix(0.9280 0 0 0.950 460.96 121.90)">-</text><text transform="matrix(1.0411 0 0 0.950 474.98 121.90)">min</text><text transform="matrix(1.0254 0 0 0.950 519.39 121.90)">pv</text>
<line x1="273.9" y1="143.4" x2="325.4" y2="143.4" stroke="#ffc000" stroke-width="2.9" stroke-linecap="round"/>
<circle cx="298.8" cy="143.4" r="5.80" fill="#ffc000"/>
<text transform="matrix(1.0147 0 0 0.950 331.64 150.30)">dRa</text><text transform="matrix(1.0419 0 0 0.950 378.08 150.30)">rad</text><text transform="matrix(1.0387 0 0 0.950 417.32 150.30)">dw</text><text transform="matrix(0.9280 0 0 0.950 460.96 150.30)">-</text><text transform="matrix(1.0370 0 0 0.950 474.98 150.30)">med</text><text transform="matrix(1.0254 0 0 0.950 524.89 150.30)">pv</text>
<line x1="273.9" y1="171.8" x2="325.4" y2="171.8" stroke="#c00000" stroke-width="2.9" stroke-linecap="round"/>
<rect x="293.1" y="166.1" width="11.4" height="11.4" rx="0.6" fill="#c00000"/>
<text transform="matrix(1.0147 0 0 0.950 331.64 178.70)">dRa</text><text transform="matrix(1.0419 0 0 0.950 378.08 178.70)">rad</text><text transform="matrix(1.0387 0 0 0.950 417.32 178.70)">dw</text><text transform="matrix(0.9280 0 0 0.950 460.96 178.70)">-</text><text transform="matrix(0.9951 0 0 0.950 475.00 178.70)">max</text><text transform="matrix(1.0254 0 0 0.950 522.89 178.70)">pv</text>
<line x1="273.8" y1="200.5" x2="322" y2="200.5" stroke="#ed7d31" stroke-width="3" stroke-linecap="round" stroke-dasharray="0.01 5.93"/>
<text transform="matrix(0.9847 0 0 0.950 331.81 207.10)">Log.</text><text transform="matrix(1.0144 0 0 0.950 382.13 207.10)">(dRa</text><text transform="matrix(1.0419 0 0 0.950 435.68 207.10)">rad</text><text transform="matrix(1.0548 0 0 0.950 474.90 207.10)">di</text><text transform="matrix(0.9280 0 0 0.950 506.16 207.10)">-</text><text transform="matrix(1.0370 0 0 0.950 519.58 207.10)">med</text><text transform="matrix(1.0573 0 0 0.950 570.38 207.10)">pv)</text>
<line x1="273.8" y1="228.6" x2="322" y2="228.6" stroke="#a5a5a5" stroke-width="3" stroke-linecap="round" stroke-dasharray="0.01 5.93"/>
<text transform="matrix(0.9847 0 0 0.950 331.81 235.50)">Log.</text><text transform="matrix(1.0144 0 0 0.950 382.13 235.50)">(dRa</text><text transform="matrix(1.0419 0 0 0.950 435.68 235.50)">rad</text><text transform="matrix(1.0548 0 0 0.950 474.90 235.50)">di</text><text transform="matrix(0.9280 0 0 0.950 506.16 235.50)">-</text><text transform="matrix(0.9951 0 0 0.950 519.60 235.50)">max</text><text transform="matrix(1.0573 0 0 0.950 569.08 235.50)">pv)</text>
<line x1="273.8" y1="257.0" x2="322" y2="257.0" stroke="#ffc000" stroke-width="3" stroke-linecap="round" stroke-dasharray="0.01 5.93"/>
<text transform="matrix(0.9847 0 0 0.950 331.81 263.90)">Log.</text><text transform="matrix(1.0144 0 0 0.950 382.13 263.90)">(dRa</text><text transform="matrix(1.0419 0 0 0.950 435.68 263.90)">rad</text><text transform="matrix(1.0387 0 0 0.950 474.92 263.90)">dw</text><text transform="matrix(0.9280 0 0 0.950 518.56 263.90)">-</text><text transform="matrix(1.0411 0 0 0.950 532.58 263.90)">min</text><text transform="matrix(1.0573 0 0 0.950 577.88 263.90)">pv)</text>
<line x1="273.8" y1="285.6" x2="322" y2="285.6" stroke="#4472c4" stroke-width="3" stroke-linecap="round" stroke-dasharray="0.01 5.93"/>
<text transform="matrix(0.9847 0 0 0.950 331.81 292.30)">Log.</text><text transform="matrix(1.0144 0 0 0.950 382.13 292.30)">(dRa</text><text transform="matrix(1.0419 0 0 0.950 435.68 292.30)">rad</text><text transform="matrix(1.0387 0 0 0.950 474.92 292.30)">dw</text><text transform="matrix(0.9280 0 0 0.950 518.56 292.30)">-</text><text transform="matrix(1.0370 0 0 0.950 532.58 292.30)">med</text><text transform="matrix(1.0573 0 0 0.950 582.98 292.30)">pv)</text>
<line x1="273.8" y1="314.0" x2="322" y2="314.0" stroke="#70ad47" stroke-width="3" stroke-linecap="round" stroke-dasharray="0.01 5.93"/>
<text transform="matrix(0.9847 0 0 0.950 331.81 320.70)">Log.</text><text transform="matrix(1.0144 0 0 0.950 382.13 320.70)">(dRa</text><text transform="matrix(1.0419 0 0 0.950 435.68 320.70)">rad</text><text transform="matrix(1.0387 0 0 0.950 474.92 320.70)">dw</text><text transform="matrix(0.9280 0 0 0.950 518.56 320.70)">-</text><text transform="matrix(0.9951 0 0 0.950 532.60 320.70)">max</text><text transform="matrix(1.0573 0 0 0.950 581.08 320.70)">pv)</text>
<text transform="matrix(1.0550 0 0 1.080 67.17 39.20)">150</text>
<text transform="matrix(1.0550 0 0 1.080 67.17 209.20)">100</text>
<text transform="matrix(1.0550 0 0 1.080 79.83 379.20)">50</text>
<text transform="matrix(1.0550 0 0 1.080 92.49 549.20)">0</text>
<text transform="matrix(1.0550 0 0 1.080 71.39 719.20)">-50</text>
<text transform="matrix(1.0550 0 0 1.080 58.73 889.20)">-100</text>
<text transform="matrix(1.0490 0 0 1.080 123.41 584.70)">0</text>
<text transform="matrix(1.0457 0 0 1.080 226.45 584.70)">1000000</text>
<text transform="matrix(1.0323 0 0 1.080 368.47 584.70)">2000000</text>
<text transform="matrix(1.0336 0 0 1.080 509.26 584.70)">3000000</text>
<text transform="matrix(1.0248 0 0 1.080 650.89 584.70)">4000000</text>
<text transform="matrix(1.1263 0 0 0.980 250.00 910.50)">Surface</text><text transform="matrix(1.1364 0 0 0.980 338.63 910.50)">activation</text><text transform="matrix(1.1129 0 0 0.980 451.54 910.50)">energy</text><text transform="matrix(0.9867 0 0 0.980 533.82 910.50)">[kJ]</text>
<g transform="translate(33.2 406.4) rotate(-90)">
<text transform="matrix(1.1152 0 0 1.050 -0.65 0.00)">d</text><text transform="matrix(1.2266 0 0 1.050 18.14 0.00)">Ra</text><text transform="matrix(1.0419 0 0 1.050 57.28 0.00)">rad</text><text transform="matrix(1.0370 0 0 1.050 97.43 0.00)">[%]</text>
</g>
<rect x="320.7" y="592.7" width="257.6" height="72.4" fill="none" stroke="#00b050" stroke-width="1.6"/>
<text transform="matrix(0.8879 0 0 0.970 325.93 620.30)">y</text><text transform="matrix(1.0942 0 0 0.970 343.99 620.30)">=</text><text transform="matrix(1.0808 0 0 0.970 362.59 620.30)">5.9293ln(x)</text><text transform="matrix(0.8960 0 0 0.970 489.49 620.30)">-</text><text transform="matrix(1.0883 0 0 0.970 501.56 620.30)">72.979</text>
<text transform="matrix(1.0251 0 0 0.970 389.68 654.00)">R²</text><text transform="matrix(1.0583 0 0 0.970 419.13 654.00)">=</text><text transform="matrix(1.0585 0 0 0.970 439.15 654.00)">0.8663</text>
</svg></body></html>
